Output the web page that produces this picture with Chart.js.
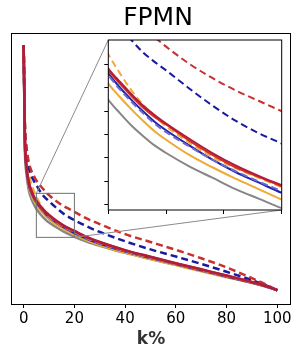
<!DOCTYPE html>
<html>
<head>
<meta charset="utf-8">
<script src="https://cdn.jsdelivr.net/npm/chart.js@4.4.1/dist/chart.umd.min.js"></script>
<style>
  body { margin: 0; background: #fff; }
  #wrap { position: relative; width: 303px; height: 352px; }
  #insetBox { position: absolute; left: 98px; top: 30px; width: 194px; height: 190px; }
</style>
</head>
<body>
<div id="wrap">
  <canvas id="mainChart" width="303" height="352"></canvas>
  <div id="insetBox"><canvas id="insetChart" width="194" height="190"></canvas></div>
</div>
<script>
// x positions (k%)
const kPercent = [0, 0.5, 1, 2, 3, 4, 5, 6, 7, 8, 9, 10, 12, 14, 16, 18, 20, 25, 30, 40, 50, 60, 70, 80, 90, 95, 100];

const crimsonSolid = [100, 62, 52, 44.5, 41, 38.5, 36.7, 35.3, 34.0, 32.8, 31.8, 30.9, 29.3, 27.8, 26.5, 25.4, 24.4, 21.9, 19.9, 16.6, 13.9, 11.3, 8.8, 6.3, 3.7, 2.2, 0.3];
const redSolid = [100, 61, 51.5, 44, 40.6, 38.2, 36.5, 35.1, 33.8, 32.6, 31.6, 30.8, 29.1, 27.6, 26.3, 25.3, 24.3, 21.8, 19.8, 16.5, 13.8, 11.2, 8.7, 6.2, 3.6, 2.2, 0.3];
const orangeDashed = [100, 68, 58, 48, 43.5, 40.6, 38.2, 36.2, 34.4, 32.9, 31.7, 30.6, 28.9, 27.4, 26.2, 25.2, 24.2, 21.7, 19.7, 16.4, 13.7, 11.1, 8.6, 6.1, 3.6, 2.1, 0.3];
const navySolid = [100, 60, 51, 43.5, 40.2, 37.9, 36.2, 34.7, 33.4, 32.2, 31.1, 30.2, 28.6, 27.1, 25.8, 24.7, 23.6, 21.2, 19.3, 16.1, 13.5, 10.9, 8.4, 5.9, 3.4, 2.0, 0.3];
const blueDashed = [100, 60, 50.8, 43.3, 40.0, 37.7, 36.0, 34.5, 33.2, 32.0, 30.9, 30.0, 28.5, 27.1, 25.9, 24.8, 23.8, 21.3, 19.4, 16.2, 13.5, 10.9, 8.4, 5.9, 3.4, 2.0, 0.3];
const orangeSolid = [100, 59, 50, 42.5, 39.2, 36.9, 35.1, 33.7, 32.4, 31.2, 30.1, 29.2, 27.6, 26.3, 25.1, 24.0, 22.9, 20.6, 18.7, 15.6, 13.0, 10.5, 8.0, 5.6, 3.2, 1.9, 0.3];
const graySolid = [100, 57, 48.5, 41, 37.6, 35.3, 33.4, 32.0, 30.7, 29.6, 28.6, 27.8, 26.4, 25.2, 24.0, 23.0, 22.0, 20.0, 18.4, 15.5, 13.0, 10.6, 8.2, 5.8, 3.3, 2.0, 0.3];
const navyDashed = [100, 66, 58, 50.5, 47, 44.8, 43.1, 41.3, 39.7, 38.4, 37.4, 36.5, 34.6, 32.8, 31.2, 29.9, 28.8, 26.2, 24.0, 20.2, 16.9, 14.0, 11.0, 7.8, 4.4, 2.5, 0.3];
const redDashed = [100, 68, 60, 52.5, 49, 46.8, 45.0, 43.6, 42.3, 41.1, 40.0, 39.0, 37.2, 35.7, 34.4, 33.3, 32.2, 29.4, 27.2, 23.1, 19.9, 16.7, 13.3, 9.6, 5.2, 2.9, 0.3];

const xTicks = [0, 20, 40, 60, 80, 100];
const insetXTicks = [5, 10, 15, 20];
const insetYTicks = [22.4, 24.85, 27.3, 29.75, 32.2, 34.65, 37.1];
// zoomed window
const zoomX = [5, 20];
const zoomY = [21.8, 39.7];

// first in list is drawn on top
const series = [
  { data: crimsonSolid, color: '#b01c3e', dashed: false },
  { data: redSolid, color: '#d8301a', dashed: false },
  { data: redDashed, color: '#c83030', dashed: true },
  { data: navyDashed, color: '#1a1a9e', dashed: true },
  { data: orangeDashed, color: '#f2a93b', dashed: true },
  { data: blueDashed, color: '#6a6ad2', dashed: true },
  { data: navySolid, color: '#2020a8', dashed: false },
  { data: orangeSolid, color: '#eeaa35', dashed: false },
  { data: graySolid, color: '#868686', dashed: false }
];

function makeSets(width, clip) {
  return series.map(s => ({
    data: s.data.map((y, i) => ({ x: kPercent[i], y: y })),
    borderColor: s.color,
    borderWidth: width,
    borderDash: s.dashed ? [7, 4] : [],
    pointRadius: 0,
    fill: false,
    cubicInterpolationMode: 'monotone',
    clip: clip
  }));
}

Chart.defaults.font.family = 'DejaVu Sans';
Chart.defaults.color = '#000';

// inset frame position on the page (layout only)
const insetLeft = 98, insetTop = 30;
const insetArea = { left: 108.3, top: 40, right: 281.7, bottom: 210 };

const mainDecor = {
  id: 'mainDecor',
  afterDatasetsDraw(chart) {
    const c = chart.ctx, a = chart.chartArea;
    const xs = chart.scales.x, ys = chart.scales.y;
    const x0 = xs.getPixelForValue(zoomX[0]), x1 = xs.getPixelForValue(zoomX[1]);
    const y0 = ys.getPixelForValue(zoomY[1]), y1 = ys.getPixelForValue(zoomY[0]);
    c.save();
    c.strokeStyle = '#707070';
    c.lineWidth = 1;
    c.strokeRect(x0, y0, x1 - x0, y1 - y0);
    c.strokeStyle = '#8a8a8a';
    c.beginPath();
    c.moveTo(x0, y0); c.lineTo(insetArea.left, insetArea.top);
    c.moveTo(x1, y1); c.lineTo(insetArea.right, insetArea.bottom);
    c.stroke();
    c.strokeStyle = '#000';
    c.strokeRect(Math.round(a.left) - 0.5, Math.round(a.top) + 0.5, Math.round(a.right - a.left) + 1, Math.round(a.bottom - a.top));
    c.fillStyle = '#000';
    c.font = '25px "DejaVu Sans"';
    c.textAlign = 'center';
    c.textBaseline = 'alphabetic';
    c.fillText('FPMN', 158, 25);
    c.restore();
  }
};

new Chart(document.getElementById('mainChart'), {
  type: 'line',
  data: { datasets: makeSets(2.5, undefined) },
  options: {
    responsive: false,
    animation: false,
    layout: { padding: { top: 33, left: 12, right: 13, bottom: 0 } },
    plugins: { legend: { display: false }, tooltip: { enabled: false } },
    scales: {
      x: {
        type: 'linear',
        min: -4.6,
        max: 105,
        afterBuildTicks: s => { s.ticks = xTicks.map(v => ({ value: v })); },
        afterFit: s => { s.height = 48; },
        grid: { drawOnChartArea: false, tickLength: 4, color: '#000' },
        border: { display: false },
        ticks: { font: { size: 15 }, color: '#000', padding: 2, maxRotation: 0 },
        title: { display: true, text: 'k%', color: '#333', font: { size: 17, weight: 'bold' }, padding: { top: 0, bottom: 2 } }
      },
      y: { display: false, min: -5.3, max: 104.9 }
    }
  },
  plugins: [mainDecor]
});

const insetDecor = {
  id: 'insetDecor',
  beforeDraw(chart) {
    const c = chart.ctx, a = chart.chartArea;
    c.save();
    c.fillStyle = '#fff';
    c.fillRect(a.left, a.top, a.right - a.left, a.bottom - a.top);
    c.restore();
  },
  afterDraw(chart) {
    const c = chart.ctx, a = chart.chartArea;
    c.save();
    c.strokeStyle = '#000';
    c.lineWidth = 1;
    c.strokeRect(a.left, a.top, a.right - a.left, a.bottom - a.top);
    c.restore();
  }
};

new Chart(document.getElementById('insetChart'), {
  type: 'line',
  data: { datasets: makeSets(2, 0) },
  options: {
    responsive: false,
    animation: false,
    layout: { padding: { top: insetArea.top - insetTop, right: 194 - (insetArea.right - insetLeft), left: 0, bottom: 0 } },
    plugins: { legend: { display: false }, tooltip: { enabled: false } },
    scales: {
      x: {
        type: 'linear',
        min: zoomX[0],
        max: zoomX[1],
        afterBuildTicks: s => { s.ticks = insetXTicks.map(v => ({ value: v })); },
        afterFit: s => { s.height = 190 - (insetArea.bottom - insetTop); },
        grid: { drawOnChartArea: false, tickLength: 4, color: '#000' },
        border: { display: false },
        ticks: { display: false }
      },
      y: {
        min: zoomY[0],
        max: zoomY[1],
        afterBuildTicks: s => { s.ticks = insetYTicks.map(v => ({ value: v })); },
        afterFit: s => { s.width = insetArea.left - insetLeft; },
        grid: { drawOnChartArea: false, tickLength: 4, color: '#000' },
        border: { display: false },
        ticks: { display: false }
      }
    }
  },
  plugins: [insetDecor]
});
</script>
</body>
</html>
